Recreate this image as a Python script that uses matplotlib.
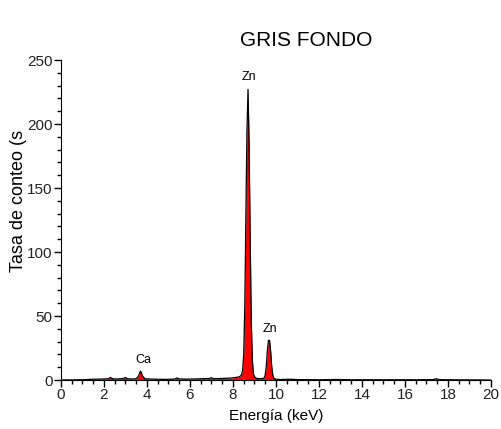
import matplotlib
matplotlib.use("Agg")
import matplotlib.pyplot as plt
from matplotlib.ticker import MultipleLocator

plt.rcParams['font.family'] = ['Liberation Sans', 'DejaVu Sans']

# spectrum (keV, counts/s)
energia = [0.0, 0.5, 1.0, 1.5, 2.0, 2.2, 2.3, 2.4, 2.6, 2.9, 3.0, 3.1, 3.3, 3.5, 3.6,
           3.7, 3.8, 3.9, 4.1, 4.5, 5.0, 5.3, 5.4, 5.5, 6.0, 6.5, 6.9, 7.0, 7.1, 7.5,
           8.0, 8.3, 8.4, 8.45, 8.5, 8.55, 8.6, 8.65, 8.7, 8.75, 8.8, 8.85, 8.9, 8.95,
           9.0, 9.1, 9.3, 9.45, 9.5, 9.55, 9.6, 9.65, 9.7, 9.75, 9.8, 9.85, 9.9, 10.0,
           10.2, 10.7, 11.0, 12.0, 12.8, 13.5, 14.5, 15.5, 16.5, 17.3, 17.45, 17.6,
           18.0, 19.0, 20.0]
cuentas = [0.0, 0.1, 0.2, 0.6, 0.8, 1.0, 2.0, 1.0, 0.8, 1.2, 2.0, 1.0, 0.8, 1.0, 3.0,
           7.0, 3.0, 1.0, 0.8, 0.6, 0.5, 0.8, 1.6, 0.8, 0.7, 1.0, 1.2, 1.8, 1.0, 1.2,
           1.6, 2.5, 4.0, 8.0, 20.0, 58.0, 128.0, 195.0, 227.0, 185.0, 110.0, 48.0, 16.0,
           5.0, 2.5, 1.2, 1.0, 1.5, 4.0, 11.0, 23.0, 31.0, 31.0, 23.0, 11.0, 4.0, 1.5,
           0.6, 0.4, 0.6, 0.3, 0.2, 0.4, 0.2, 0.2, 0.2, 0.2, 0.3, 1.0, 0.3, 0.2, 0.1, 0.0]

etiquetas = ["Zn", "Zn", "Ca"]
etiq_x = [8.72, 9.72, 3.85]
etiq_y = [237, 40, 16]

fig = plt.figure(figsize=(5.02, 4.29), dpi=100)
ax = fig.add_axes([0.1215, 0.1142, 0.8565, 0.7459])

ax.fill_between(energia, cuentas, 0, color="red", linewidth=0)
ax.plot(energia, cuentas, color="black", linewidth=0.9)

for t, x, y in zip(etiquetas, etiq_x, etiq_y):
    ax.text(x, y, t, ha="center", va="center", fontsize=9)

ax.set_xlim(0, 20)
ax.set_ylim(0, 250)
ax.xaxis.set_major_locator(MultipleLocator(2))
ax.xaxis.set_minor_locator(MultipleLocator(0.5))
ax.yaxis.set_major_locator(MultipleLocator(50))
ax.yaxis.set_minor_locator(MultipleLocator(10))
ax.tick_params(which="major", length=5, width=1, labelsize=11, pad=1, labelcolor="#222222")
ax.tick_params(which="minor", length=3, width=1)
ax.spines["top"].set_visible(False)
ax.spines["right"].set_visible(False)

ax.set_xlabel("Energía (keV)", fontsize=11, labelpad=5)
ax.set_ylabel("Tasa de conteo (s", fontsize=13)
ax.yaxis.set_label_coords(-0.08, 0.56)
fig.text(0.61, 0.905, "GRIS FONDO", fontsize=15, ha="center", va="center")

plt.savefig("out.png", dpi=100)
